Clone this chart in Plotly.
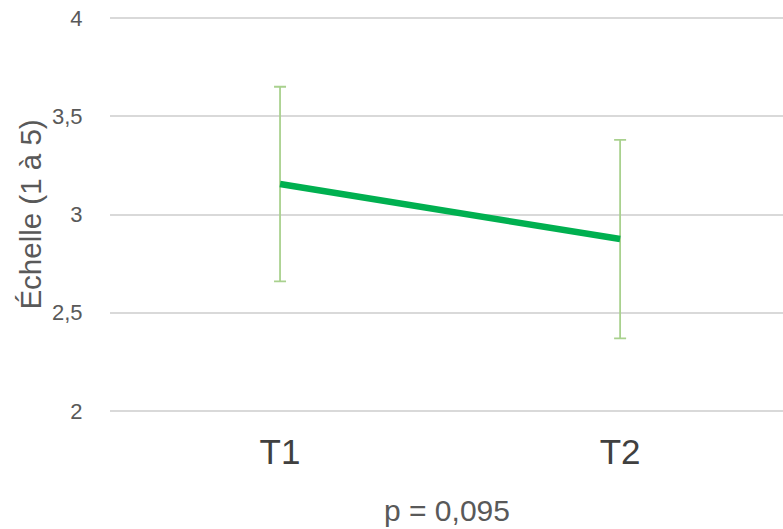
import plotly.graph_objects as go

categories = ["T1", "T2"]
means = [3.155, 2.875]
errors = [0.495, 0.505]
y_ticks = [2, 2.5, 3, 3.5, 4]

fig = go.Figure()
fig.add_trace(go.Scatter(
    x=categories, y=means, mode="lines",
    line=dict(color="#00B050", width=6.5),
    error_y=dict(type="data", array=errors, visible=True,
                 color="#A9D18E", thickness=1.8, width=6),
    showlegend=False,
))

fig.update_layout(
    width=783, height=529,
    margin=dict(l=110, r=0, t=16, b=116),
    paper_bgcolor="white", plot_bgcolor="white",
    separators=", ",
    font=dict(family="Liberation Sans, Arial, sans-serif", color="#595959"),
    xaxis=dict(
        type="category", range=[-0.5, 1.479],
        showgrid=False, showline=False, zeroline=False,
        tickfont=dict(size=35, color="#404040"),
        ticks="outside", ticklen=8, tickcolor="rgba(0,0,0,0)",
    ),
    yaxis=dict(
        range=[1.99, 4.01], tickvals=y_ticks,
        showgrid=True, gridcolor="#D9D9D9", gridwidth=1.5,
        zeroline=False, showline=False,
        tickfont=dict(size=22, color="#595959"),
        ticks="outside", ticklen=22, tickcolor="rgba(0,0,0,0)",
        title=dict(text="Échelle (1 à 5)", font=dict(size=29.5, color="#595959"), standoff=1),
    ),
    annotations=[dict(
        text="p = 0,095", x=0.5, xref="paper", y=-0.245, yref="paper",
        xanchor="center", yanchor="middle", showarrow=False,
        font=dict(size=30, color="#595959"),
    )],
)

fig.write_html(
    "out.html",
    config={"displayModeBar": False},
    post_script="document.body.style.margin='0';document.body.style.overflow='hidden';",
)
